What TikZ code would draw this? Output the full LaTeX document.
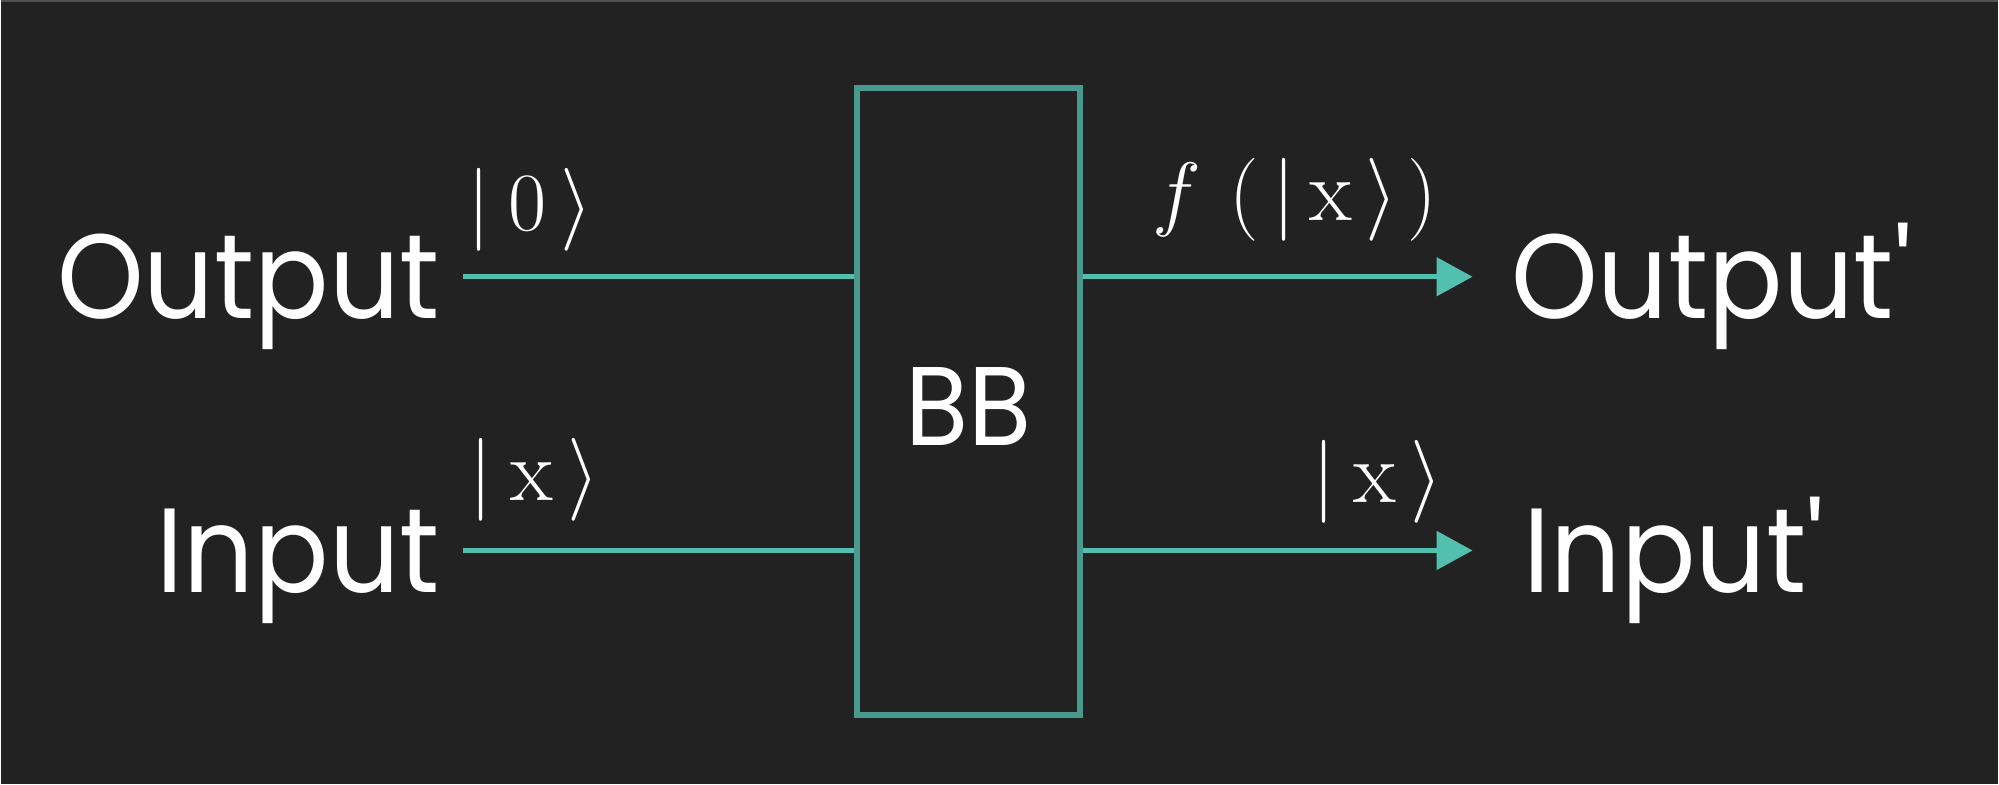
\documentclass[tikz,border=0pt]{standalone}
\usepackage{amsmath}
\usepackage{fontspec}
\usepackage{tikz}
\usetikzlibrary{arrows.meta}
\newfontfamily\lblfont[FakeStretch=0.92]{Poppins}
\definecolor{bgcol}{HTML}{222222}
\definecolor{wirecol}{HTML}{53BFAE}
\definecolor{boxcol}{HTML}{489A8C}

\begin{document}
\begin{tikzpicture}[x=0.25pt, y=-0.25pt,
lbl/.style={text=white, font=\lblfont\fontsize{30}{31}\selectfont, inner ysep=0pt, text height=21pt, text depth=0pt},
ket/.style={text=white, font=\fontsize{22}{23}\selectfont, inner sep=0pt},
wire/.style={draw=wirecol, line width=1.25pt},
arr/.style={wire, -{Triangle[length=9pt, width=9.5pt]}},
bbox/.style={draw=boxcol, line width=1.5pt, text=white, font=\lblfont\fontsize{28}{29}\selectfont,
  text height=22pt, text depth=0pt, minimum width=56pt, minimum height=157pt}]
\fill[bgcol] (0,0) rectangle (1999,785);
\draw[gray!50!bgcol, line width=0.5pt] (0,1) -- (1999,1);
\useasboundingbox (0,0) rectangle (1999,785);

\node[bbox] (bb) at (968.5,402) {BB};

\node[lbl, anchor=east, inner xsep=5.5pt] (out) at (462,277) {Output};
\node[lbl, anchor=east, inner xsep=5.5pt] (in) at (462,551) {Input};
\node[lbl, anchor=west, inner xsep=9.5pt] (outp) at (1473,277) {Output\textquotesingle};
\node[lbl, anchor=west, inner xsep=12.5pt] (inp) at (1473,551) {Input\textquotesingle};

\node[ket, anchor=south west] (k0) at (466,252) {$|\mkern4mu 0\mkern3mu\rangle$};
\node[ket, anchor=south west] (kx) at (468,523) {$|\mkern4mu\mathrm{x}\mkern3mu\rangle$};
\node[ket, anchor=south west] (fx) at (1152,242) {$f\mkern6mu(\mkern3mu|\mkern3mu\mathrm{x}\mkern3mu\rangle\mkern2mu)$};
\node[ket, anchor=south west] (kxp) at (1312,525) {$|\mkern4mu\mathrm{x}\mkern3mu\rangle$};

\draw[wire] (out) -- (out -| bb.west);
\draw[wire] (in) -- (in -| bb.west);
\draw[arr] (bb.east |- outp) -- (outp);
\draw[arr] (bb.east |- inp) -- (inp);
\end{tikzpicture}
\end{document}
